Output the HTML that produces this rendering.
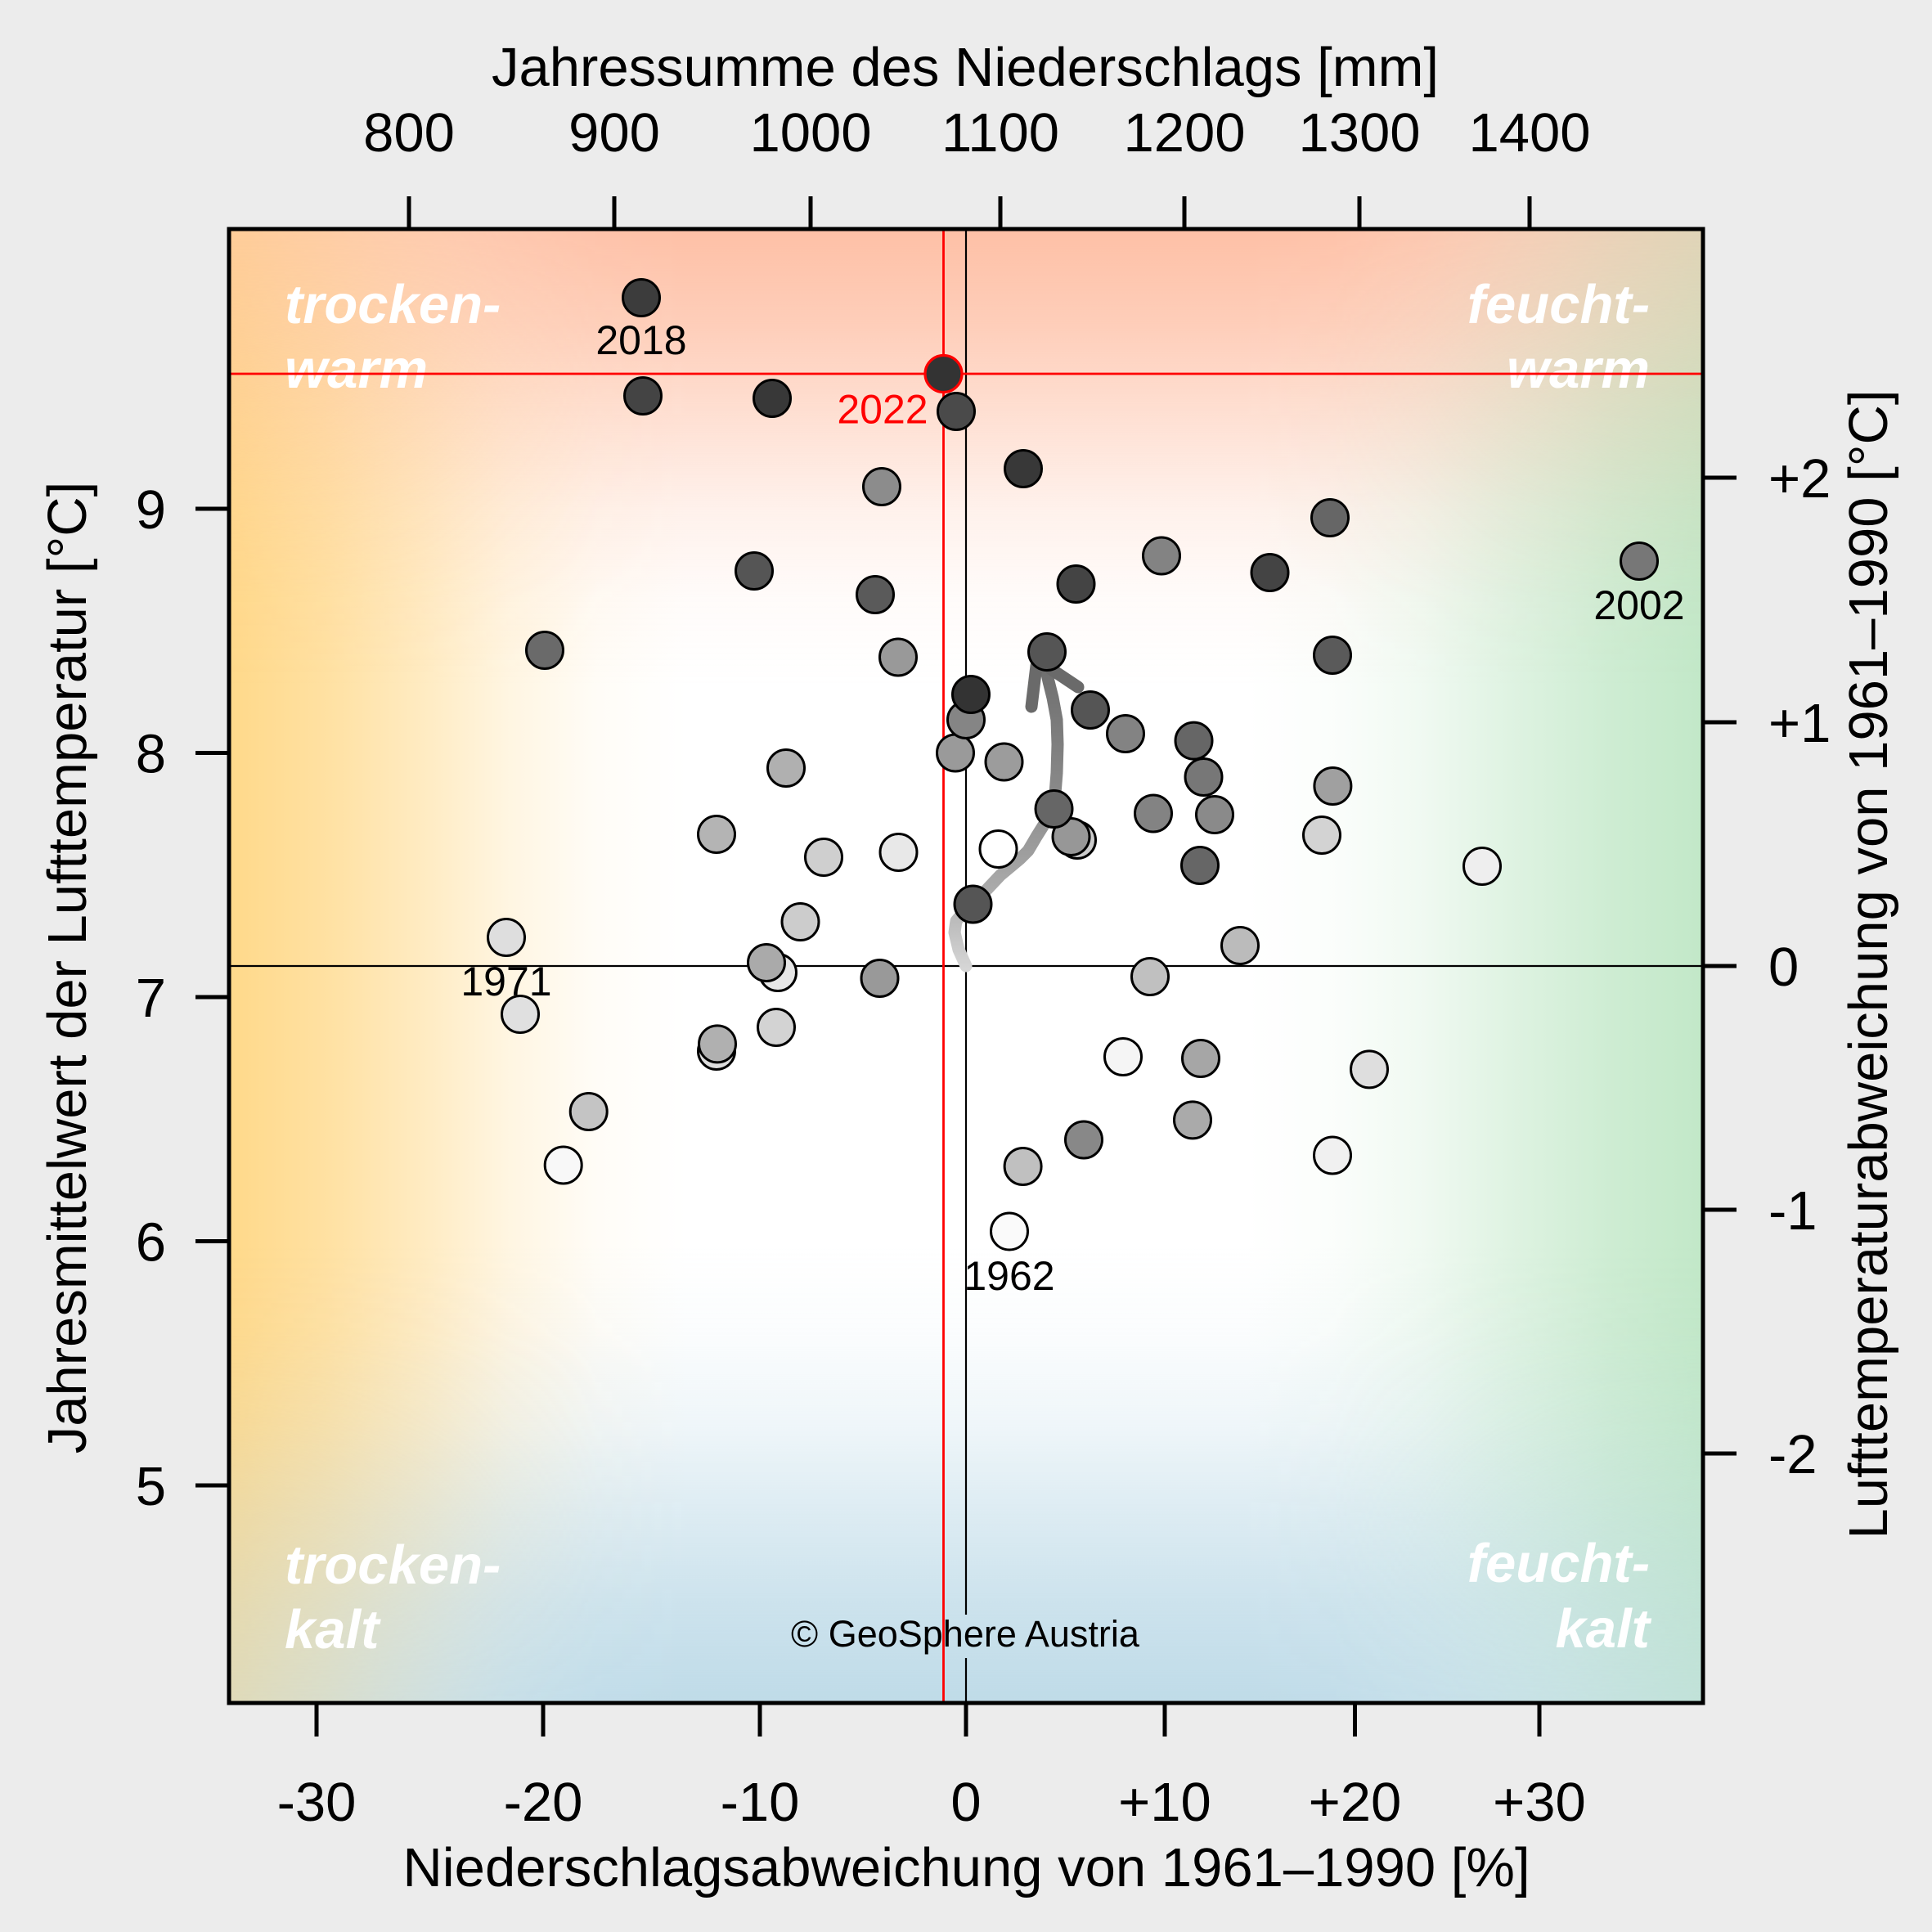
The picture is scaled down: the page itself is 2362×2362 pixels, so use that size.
<!DOCTYPE html>
<html>
<head>
<meta charset="utf-8">
<style>
html,body{margin:0;padding:0;background:#ececec;}
svg{display:block;}
</style>
</head>
<body>
<svg xmlns="http://www.w3.org/2000/svg" width="2362" height="2362" viewBox="0 0 2362 2362" font-family="'Liberation Sans', Arial, Helvetica, sans-serif">
<defs>
  <linearGradient id="gh" gradientUnits="userSpaceOnUse" x1="280" y1="0" x2="2082" y2="0">
    <stop offset="0" stop-color="#ffd98a" stop-opacity="1"/>
    <stop offset="0.065" stop-color="#ffd98a" stop-opacity="0.8"/>
    <stop offset="0.13" stop-color="#ffd98a" stop-opacity="0.53"/>
    <stop offset="0.19" stop-color="#ffd98a" stop-opacity="0.25"/>
    <stop offset="0.25" stop-color="#ffd98a" stop-opacity="0.07"/>
    <stop offset="0.31" stop-color="#ffd98a" stop-opacity="0"/>
    <stop offset="0.69" stop-color="#c2e8c8" stop-opacity="0"/>
    <stop offset="0.75" stop-color="#c2e8c8" stop-opacity="0.07"/>
    <stop offset="0.81" stop-color="#c2e8c8" stop-opacity="0.25"/>
    <stop offset="0.87" stop-color="#c2e8c8" stop-opacity="0.53"/>
    <stop offset="0.935" stop-color="#c2e8c8" stop-opacity="0.8"/>
    <stop offset="1" stop-color="#c2e8c8" stop-opacity="1"/>
  </linearGradient>
  <linearGradient id="gv" gradientUnits="userSpaceOnUse" x1="0" y1="280" x2="0" y2="2082">
    <stop offset="0" stop-color="#fec0a6" stop-opacity="1"/>
    <stop offset="0.065" stop-color="#fec0a6" stop-opacity="0.78"/>
    <stop offset="0.13" stop-color="#fec0a6" stop-opacity="0.48"/>
    <stop offset="0.19" stop-color="#fec0a6" stop-opacity="0.22"/>
    <stop offset="0.25" stop-color="#fec0a6" stop-opacity="0.06"/>
    <stop offset="0.31" stop-color="#fec0a6" stop-opacity="0"/>
    <stop offset="0.69" stop-color="#bfdbe8" stop-opacity="0"/>
    <stop offset="0.75" stop-color="#bfdbe8" stop-opacity="0.07"/>
    <stop offset="0.81" stop-color="#bfdbe8" stop-opacity="0.25"/>
    <stop offset="0.87" stop-color="#bfdbe8" stop-opacity="0.53"/>
    <stop offset="0.935" stop-color="#bfdbe8" stop-opacity="0.8"/>
    <stop offset="1" stop-color="#bfdbe8" stop-opacity="1"/>
  </linearGradient>
  <linearGradient id="gm" gradientUnits="userSpaceOnUse" x1="280" y1="0" x2="2082" y2="0">
    <stop offset="0" stop-color="#fff" stop-opacity="0.5"/>
    <stop offset="0.065" stop-color="#fff" stop-opacity="0.6"/>
    <stop offset="0.13" stop-color="#fff" stop-opacity="0.73"/>
    <stop offset="0.19" stop-color="#fff" stop-opacity="0.87"/>
    <stop offset="0.25" stop-color="#fff" stop-opacity="0.965"/>
    <stop offset="0.31" stop-color="#fff" stop-opacity="1"/>
    <stop offset="0.69" stop-color="#fff" stop-opacity="1"/>
    <stop offset="0.75" stop-color="#fff" stop-opacity="0.965"/>
    <stop offset="0.81" stop-color="#fff" stop-opacity="0.87"/>
    <stop offset="0.87" stop-color="#fff" stop-opacity="0.73"/>
    <stop offset="0.935" stop-color="#fff" stop-opacity="0.6"/>
    <stop offset="1" stop-color="#fff" stop-opacity="0.5"/>
  </linearGradient>
  <mask id="mv" maskUnits="userSpaceOnUse" x="280" y="280" width="1802" height="1802">
    <rect x="280" y="280" width="1802" height="1802" fill="url(#gm)"/>
  </mask>
  <linearGradient id="ga" gradientUnits="userSpaceOnUse" x1="0" y1="1185" x2="0" y2="800">
    <stop offset="0" stop-color="#d6d6d6"/>
    <stop offset="0.25" stop-color="#ababab"/>
    <stop offset="0.55" stop-color="#8a8a8a"/>
    <stop offset="1" stop-color="#6c6c6c"/>
  </linearGradient>
</defs>

<rect x="0" y="0" width="2362" height="2362" fill="#ececec"/>

<!-- plot background -->
<rect x="280" y="280" width="1802" height="1802" fill="#ffffff"/>
<rect x="280" y="280" width="1802" height="1802" fill="url(#gh)"/>
<rect x="280" y="280" width="1802" height="1802" fill="url(#gv)" mask="url(#mv)"/>

<!-- quadrant labels -->
<g fill="#ffffff" font-weight="bold" font-style="italic" font-size="67">
  <text x="348" y="395">trocken-</text>
  <text x="348" y="474">warm</text>
  <text x="2017" y="395" text-anchor="end">feucht-</text>
  <text x="2017" y="474" text-anchor="end">warm</text>
  <text x="348" y="1936">trocken-</text>
  <text x="348" y="2015">kalt</text>
  <text x="2017" y="1934" text-anchor="end">feucht-</text>
  <text x="2017" y="2014" text-anchor="end">kalt</text>
</g>

<!-- copyright -->
<text x="1180" y="2013" text-anchor="middle" font-size="45" fill="#000">© GeoSphere Austria</text>

<!-- reference lines -->
<g stroke="#000" stroke-width="2.2">
  <line x1="280" y1="1181" x2="2082" y2="1181"/>
  <line x1="1181" y1="280" x2="1181" y2="1974"/>
  <line x1="1181" y1="2027" x2="1181" y2="2082"/>
</g>
<g stroke="#ff0000" stroke-width="2.8">
  <line x1="280" y1="457" x2="2082" y2="457"/>
  <line x1="1153.5" y1="280" x2="1153.5" y2="2082"/>
</g>

<!-- arrow -->
<polyline points="1181,1181 1172,1161 1167,1140 1169,1126 1180,1113 1190,1104 1207,1087 1223,1070 1247,1050 1257,1040 1267,1023 1277,1007 1285,993 1290,970 1292,945 1293,910 1292,880 1287,853 1282,833 1278,815 1276,805" fill="none" stroke="url(#ga)" stroke-width="15" stroke-linecap="round" stroke-linejoin="round"/>
<g stroke="#6a6a6a" stroke-width="15" stroke-linecap="round">
  <line x1="1267" y1="814" x2="1261" y2="864"/>
  <line x1="1285" y1="818" x2="1318" y2="840"/>
</g>

<!-- points -->
<g stroke="#000" stroke-width="3">
  <circle cx="1220.5" cy="1038" r="22.5" fill="#ffffff"/>
  <circle cx="1234" cy="1505.5" r="22.5" fill="#fafafa"/>
  <circle cx="688.7" cy="1424.5" r="22.5" fill="#f8f8f8"/>
  <circle cx="1373" cy="1292" r="22.5" fill="#f5f5f5"/>
  <circle cx="1629" cy="1412.5" r="22.5" fill="#f0f0f0"/>
  <circle cx="1812" cy="1059" r="22.5" fill="#eeeeee"/>
  <circle cx="1098.5" cy="1042" r="22.5" fill="#e8e8e8"/>
  <circle cx="951" cy="1189" r="22.5" fill="#e6e6e6"/>
  <circle cx="636" cy="1240" r="22.5" fill="#e0e0e0"/>
  <circle cx="619" cy="1146" r="22.5" fill="#dedede"/>
  <circle cx="1674" cy="1307.4" r="22.5" fill="#dedede"/>
  <circle cx="876" cy="1285" r="22.5" fill="#dddddd"/>
  <circle cx="1616" cy="1021" r="22.5" fill="#d3d3d3"/>
  <circle cx="949" cy="1256" r="22.5" fill="#d3d3d3"/>
  <circle cx="1007" cy="1048" r="22.5" fill="#cfcfcf"/>
  <circle cx="1317" cy="1027" r="22.5" fill="#cccccc"/>
  <circle cx="978.5" cy="1127" r="22.5" fill="#cccccc"/>
  <circle cx="719.7" cy="1359" r="22.5" fill="#c4c4c4"/>
  <circle cx="1406" cy="1194" r="22.5" fill="#c0c0c0"/>
  <circle cx="1250.6" cy="1426" r="22.5" fill="#c0c0c0"/>
  <circle cx="1516" cy="1156" r="22.5" fill="#bbbbbb"/>
  <circle cx="876" cy="1020" r="22.5" fill="#b4b4b4"/>
  <circle cx="961" cy="939" r="22.5" fill="#b0b0b0"/>
  <circle cx="877" cy="1276.4" r="22.5" fill="#b0b0b0"/>
  <circle cx="937" cy="1177" r="22.5" fill="#aaaaaa"/>
  <circle cx="1458" cy="1369.4" r="22.5" fill="#aaaaaa"/>
  <circle cx="1468" cy="1294" r="22.5" fill="#a6a6a6"/>
  <circle cx="1629.4" cy="961" r="22.5" fill="#a0a0a0"/>
  <circle cx="1227.5" cy="931.5" r="22.5" fill="#9c9c9c"/>
  <circle cx="1168" cy="920.5" r="22.5" fill="#9a9a9a"/>
  <circle cx="1098" cy="803.5" r="22.5" fill="#999999"/>
  <circle cx="1075.5" cy="1196" r="22.5" fill="#999999"/>
  <circle cx="1309.5" cy="1023" r="22.5" fill="#979797"/>
  <circle cx="1078" cy="595" r="22.5" fill="#8c8c8c"/>
  <circle cx="1485" cy="996" r="22.5" fill="#8a8a8a"/>
  <circle cx="1325" cy="1393.5" r="22.5" fill="#888888"/>
  <circle cx="1181" cy="880" r="22.5" fill="#858585"/>
  <circle cx="1420" cy="679.5" r="22.5" fill="#838383"/>
  <circle cx="1376" cy="897" r="22.5" fill="#838383"/>
  <circle cx="1410" cy="994.5" r="22.5" fill="#838383"/>
  <circle cx="2004" cy="686" r="22.5" fill="#777777"/>
  <circle cx="1471.5" cy="950" r="22.5" fill="#777777"/>
  <circle cx="666" cy="795" r="22.5" fill="#6a6a6a"/>
  <circle cx="1626" cy="633" r="22.5" fill="#666666"/>
  <circle cx="1459.5" cy="905.6" r="22.5" fill="#666666"/>
  <circle cx="1288.5" cy="989" r="22.5" fill="#666666"/>
  <circle cx="1467" cy="1058" r="22.5" fill="#666666"/>
  <circle cx="1070" cy="727" r="22.5" fill="#5a5a5a"/>
  <circle cx="1629" cy="801" r="22.5" fill="#5a5a5a"/>
  <circle cx="922" cy="698" r="22.5" fill="#555555"/>
  <circle cx="1280" cy="797" r="22.5" fill="#555555"/>
  <circle cx="1333" cy="868" r="22.5" fill="#555555"/>
  <circle cx="1189.5" cy="1105.5" r="22.5" fill="#555555"/>
  <circle cx="1169" cy="503" r="22.5" fill="#4a4a4a"/>
  <circle cx="786" cy="484" r="22.5" fill="#444444"/>
  <circle cx="1552.5" cy="700" r="22.5" fill="#444444"/>
  <circle cx="1315.5" cy="714" r="22.5" fill="#444444"/>
  <circle cx="784" cy="364" r="22.5" fill="#3c3c3c"/>
  <circle cx="944" cy="487" r="22.5" fill="#383838"/>
  <circle cx="1251" cy="573" r="22.5" fill="#383838"/>
  <circle cx="1187" cy="849" r="22.5" fill="#333333"/>
</g>
<circle cx="1153.5" cy="457" r="22.5" fill="#333333" stroke="#ff0000" stroke-width="3.2"/>

<!-- year labels -->
<g font-size="50" text-anchor="middle" fill="#000">
  <text x="784" y="433">2018</text>
  <text x="2004" y="757">2002</text>
  <text x="619" y="1217">1971</text>
  <text x="1234" y="1577">1962</text>
</g>
<text x="1079" y="517.5" font-size="50" text-anchor="middle" fill="#ff0000">2022</text>

<!-- frame -->
<rect x="280" y="280" width="1802" height="1802" fill="none" stroke="#000" stroke-width="5"/>

<!-- ticks -->
<g stroke="#000" stroke-width="5" stroke-linecap="butt">
  <line x1="500" y1="240" x2="500" y2="280"/>
  <line x1="751" y1="240" x2="751" y2="280"/>
  <line x1="991" y1="240" x2="991" y2="280"/>
  <line x1="1223" y1="240" x2="1223" y2="280"/>
  <line x1="1448" y1="240" x2="1448" y2="280"/>
  <line x1="1662" y1="240" x2="1662" y2="280"/>
  <line x1="1870" y1="240" x2="1870" y2="280"/>
  <line x1="387" y1="2082" x2="387" y2="2123"/>
  <line x1="664" y1="2082" x2="664" y2="2123"/>
  <line x1="929" y1="2082" x2="929" y2="2123"/>
  <line x1="1181" y1="2082" x2="1181" y2="2123"/>
  <line x1="1424" y1="2082" x2="1424" y2="2123"/>
  <line x1="1656.5" y1="2082" x2="1656.5" y2="2123"/>
  <line x1="1882" y1="2082" x2="1882" y2="2123"/>
  <line x1="239" y1="622" x2="280" y2="622"/>
  <line x1="239" y1="920.5" x2="280" y2="920.5"/>
  <line x1="239" y1="1219" x2="280" y2="1219"/>
  <line x1="239" y1="1517.5" x2="280" y2="1517.5"/>
  <line x1="239" y1="1816" x2="280" y2="1816"/>
  <line x1="2082" y1="584" x2="2123" y2="584"/>
  <line x1="2082" y1="883" x2="2123" y2="883"/>
  <line x1="2082" y1="1181" x2="2123" y2="1181"/>
  <line x1="2082" y1="1479" x2="2123" y2="1479"/>
  <line x1="2082" y1="1777" x2="2123" y2="1777"/>
</g>

<!-- tick labels -->
<g font-size="67" fill="#000">
  <g text-anchor="middle">
    <text x="500" y="185">800</text>
    <text x="751" y="185">900</text>
    <text x="991" y="185">1000</text>
    <text x="1223" y="185">1100</text>
    <text x="1448" y="185">1200</text>
    <text x="1662" y="185">1300</text>
    <text x="1870" y="185">1400</text>

    <text x="387" y="2226">-30</text>
    <text x="664" y="2226">-20</text>
    <text x="929" y="2226">-10</text>
    <text x="1181" y="2226">0</text>
    <text x="1424" y="2226">+10</text>
    <text x="1656.5" y="2226">+20</text>
    <text x="1882" y="2226">+30</text>
  </g>
  <g text-anchor="end">
    <text x="203" y="646">9</text>
    <text x="203" y="944.5">8</text>
    <text x="203" y="1243">7</text>
    <text x="203" y="1541.5">6</text>
    <text x="203" y="1840">5</text>
  </g>
  <g text-anchor="start">
    <text x="2162" y="608">+2</text>
    <text x="2162" y="907">+1</text>
    <text x="2162" y="1205">0</text>
    <text x="2162" y="1503">-1</text>
    <text x="2162" y="1801">-2</text>
  </g>

  <text x="1180" y="105" text-anchor="middle">Jahressumme des Niederschlags [mm]</text>
  <text x="1181.5" y="2306" text-anchor="middle">Niederschlagsabweichung von 1961–1990 [%]</text>
  <text transform="translate(105,1183) rotate(-90)" text-anchor="middle">Jahresmittelwert der Lufttemperatur [°C]</text>
  <text transform="translate(2307,1179) rotate(-90)" text-anchor="middle">Lufttemperaturabweichung von 1961–1990 [°C]</text>
</g>
</svg>
</body>
</html>
